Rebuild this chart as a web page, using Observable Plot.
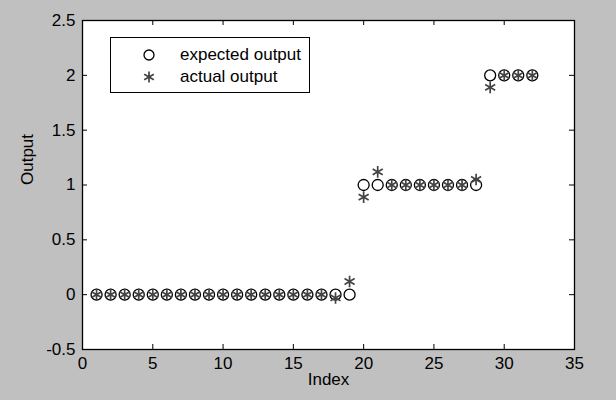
<!DOCTYPE html>
<html>
<head>
<meta charset="utf-8">
<script src="https://cdn.jsdelivr.net/npm/d3@7"></script>
<script src="https://cdn.jsdelivr.net/npm/@observablehq/plot@0.6"></script>
<style>
  html, body { margin: 0; padding: 0; background: #c0c0c0; }
  #wrap { position: relative; width: 616px; height: 400px; background: #c0c0c0; }
  #legend { position: absolute; left: 110px; top: 37px; width: 200px; height: 56px;
    background: white; border: 1px solid #000; box-sizing: border-box;
    font-family: "Liberation Sans", Arial, sans-serif; font-size: 17px; color: #000; }
  .row { position: absolute; left: 0; height: 22px; width: 100%; }
  .row svg { position: absolute; left: 27px; top: 0; }
  .row span { position: absolute; left: 69px; top: 1px; white-space: nowrap; line-height: 20px; }
</style>
</head>
<body>
<div id="wrap">
  <div id="chart"></div>
  <div id="legend">
    <div class="row" style="top:6px"><svg width="22" height="22" viewBox="-11 -11 22 22"><circle r="5" fill="none" stroke="#000" stroke-width="1.3"/></svg><span>expected output</span></div>
    <div class="row" style="top:28px"><svg width="22" height="22" viewBox="-11 -11 22 22"><path d="M0,-5.5V5.5M-4.8,-2.75L4.8,2.75M-4.8,2.75L4.8,-2.75" stroke="#444" stroke-width="1.7"/></svg><span>actual output</span></div>
  </div>
</div>
<script>
const index = d3.range(1, 33);
const expected = [0,0,0,0,0,0,0,0,0,0,0,0,0,0,0,0,0,0,0, 1,1,1,1,1,1,1,1,1, 2,2,2,2];
const actual   = [0,0,0,0,0,0,0,0,0,0,0,0,0,0,0,0,0,-0.03,0.12, 0.89,1.12,1,1,1,1,1,1,1.05, 1.89,2,2,2];
const xTicks = [0,5,10,15,20,25,30,35];
const yTicks = [-0.5,0,0.5,1,1.5,2,2.5];
const yTickLabels = ["-0.5","0","0.5","1","1.5","2","2.5"];

const expData = index.map((i, k) => ({i, v: expected[k]}));
const actData = index.map((i, k) => ({i, v: actual[k]}));

const mT = 20, mB = 51, mL = 82, mR = 42;
const plotH = 400 - mT - mB;
const plotW = 616 - mL - mR;

const chart = Plot.plot({
  width: 616,
  height: 400,
  marginLeft: mL,
  marginRight: mR,
  marginTop: mT,
  marginBottom: mB,
  style: { background: "transparent", fontFamily: "Liberation Sans, Arial, sans-serif", fontSize: "17px", color: "#000" },
  x: { domain: [0, 35], ticks: xTicks, label: null },
  y: { domain: [-0.5, 2.5], ticks: yTicks, label: null },
  marks: [
    Plot.frame({ fill: "white", stroke: "none" }),
    Plot.axisX(xTicks, { anchor: "bottom", tickSize: 0, tickPadding: 7, fontSize: 17, label: null }),
    Plot.axisY(yTicks, { anchor: "left", tickSize: 0, tickPadding: 7, fontSize: 17, label: null, tickFormat: (d, k) => yTickLabels[k] }),
    Plot.tickX(xTicks.slice(1, -1), { x: d => d, stroke: "#000", insetTop: plotH - 5 }),
    Plot.tickX(xTicks.slice(1, -1), { x: d => d, stroke: "#000", insetBottom: plotH - 5 }),
    Plot.tickY(yTicks.slice(1, -1), { y: d => d, stroke: "#000", insetRight: plotW - 5 }),
    Plot.tickY(yTicks.slice(1, -1), { y: d => d, stroke: "#000", insetLeft: plotW - 5 }),
    Plot.dot(expData, { x: "i", y: "v", r: 5.5, stroke: "#000", strokeWidth: 1.3, fill: "none" }),
    Plot.dot(actData, { x: "i", y: "v", r: 5.5, symbol: "asterisk", stroke: "#444", strokeWidth: 1.7 }),
    Plot.frame({ stroke: "#000", strokeWidth: 1.3 }),
    Plot.text(["Index"], { frameAnchor: "bottom", dy: 35, fontSize: 17, fill: "#000" }),
    Plot.text(["Output"], { frameAnchor: "left", dx: -55, rotate: -90, fontSize: 17, fill: "#000" })
  ]
});
document.getElementById("chart").appendChild(chart);
</script>
</body>
</html>
